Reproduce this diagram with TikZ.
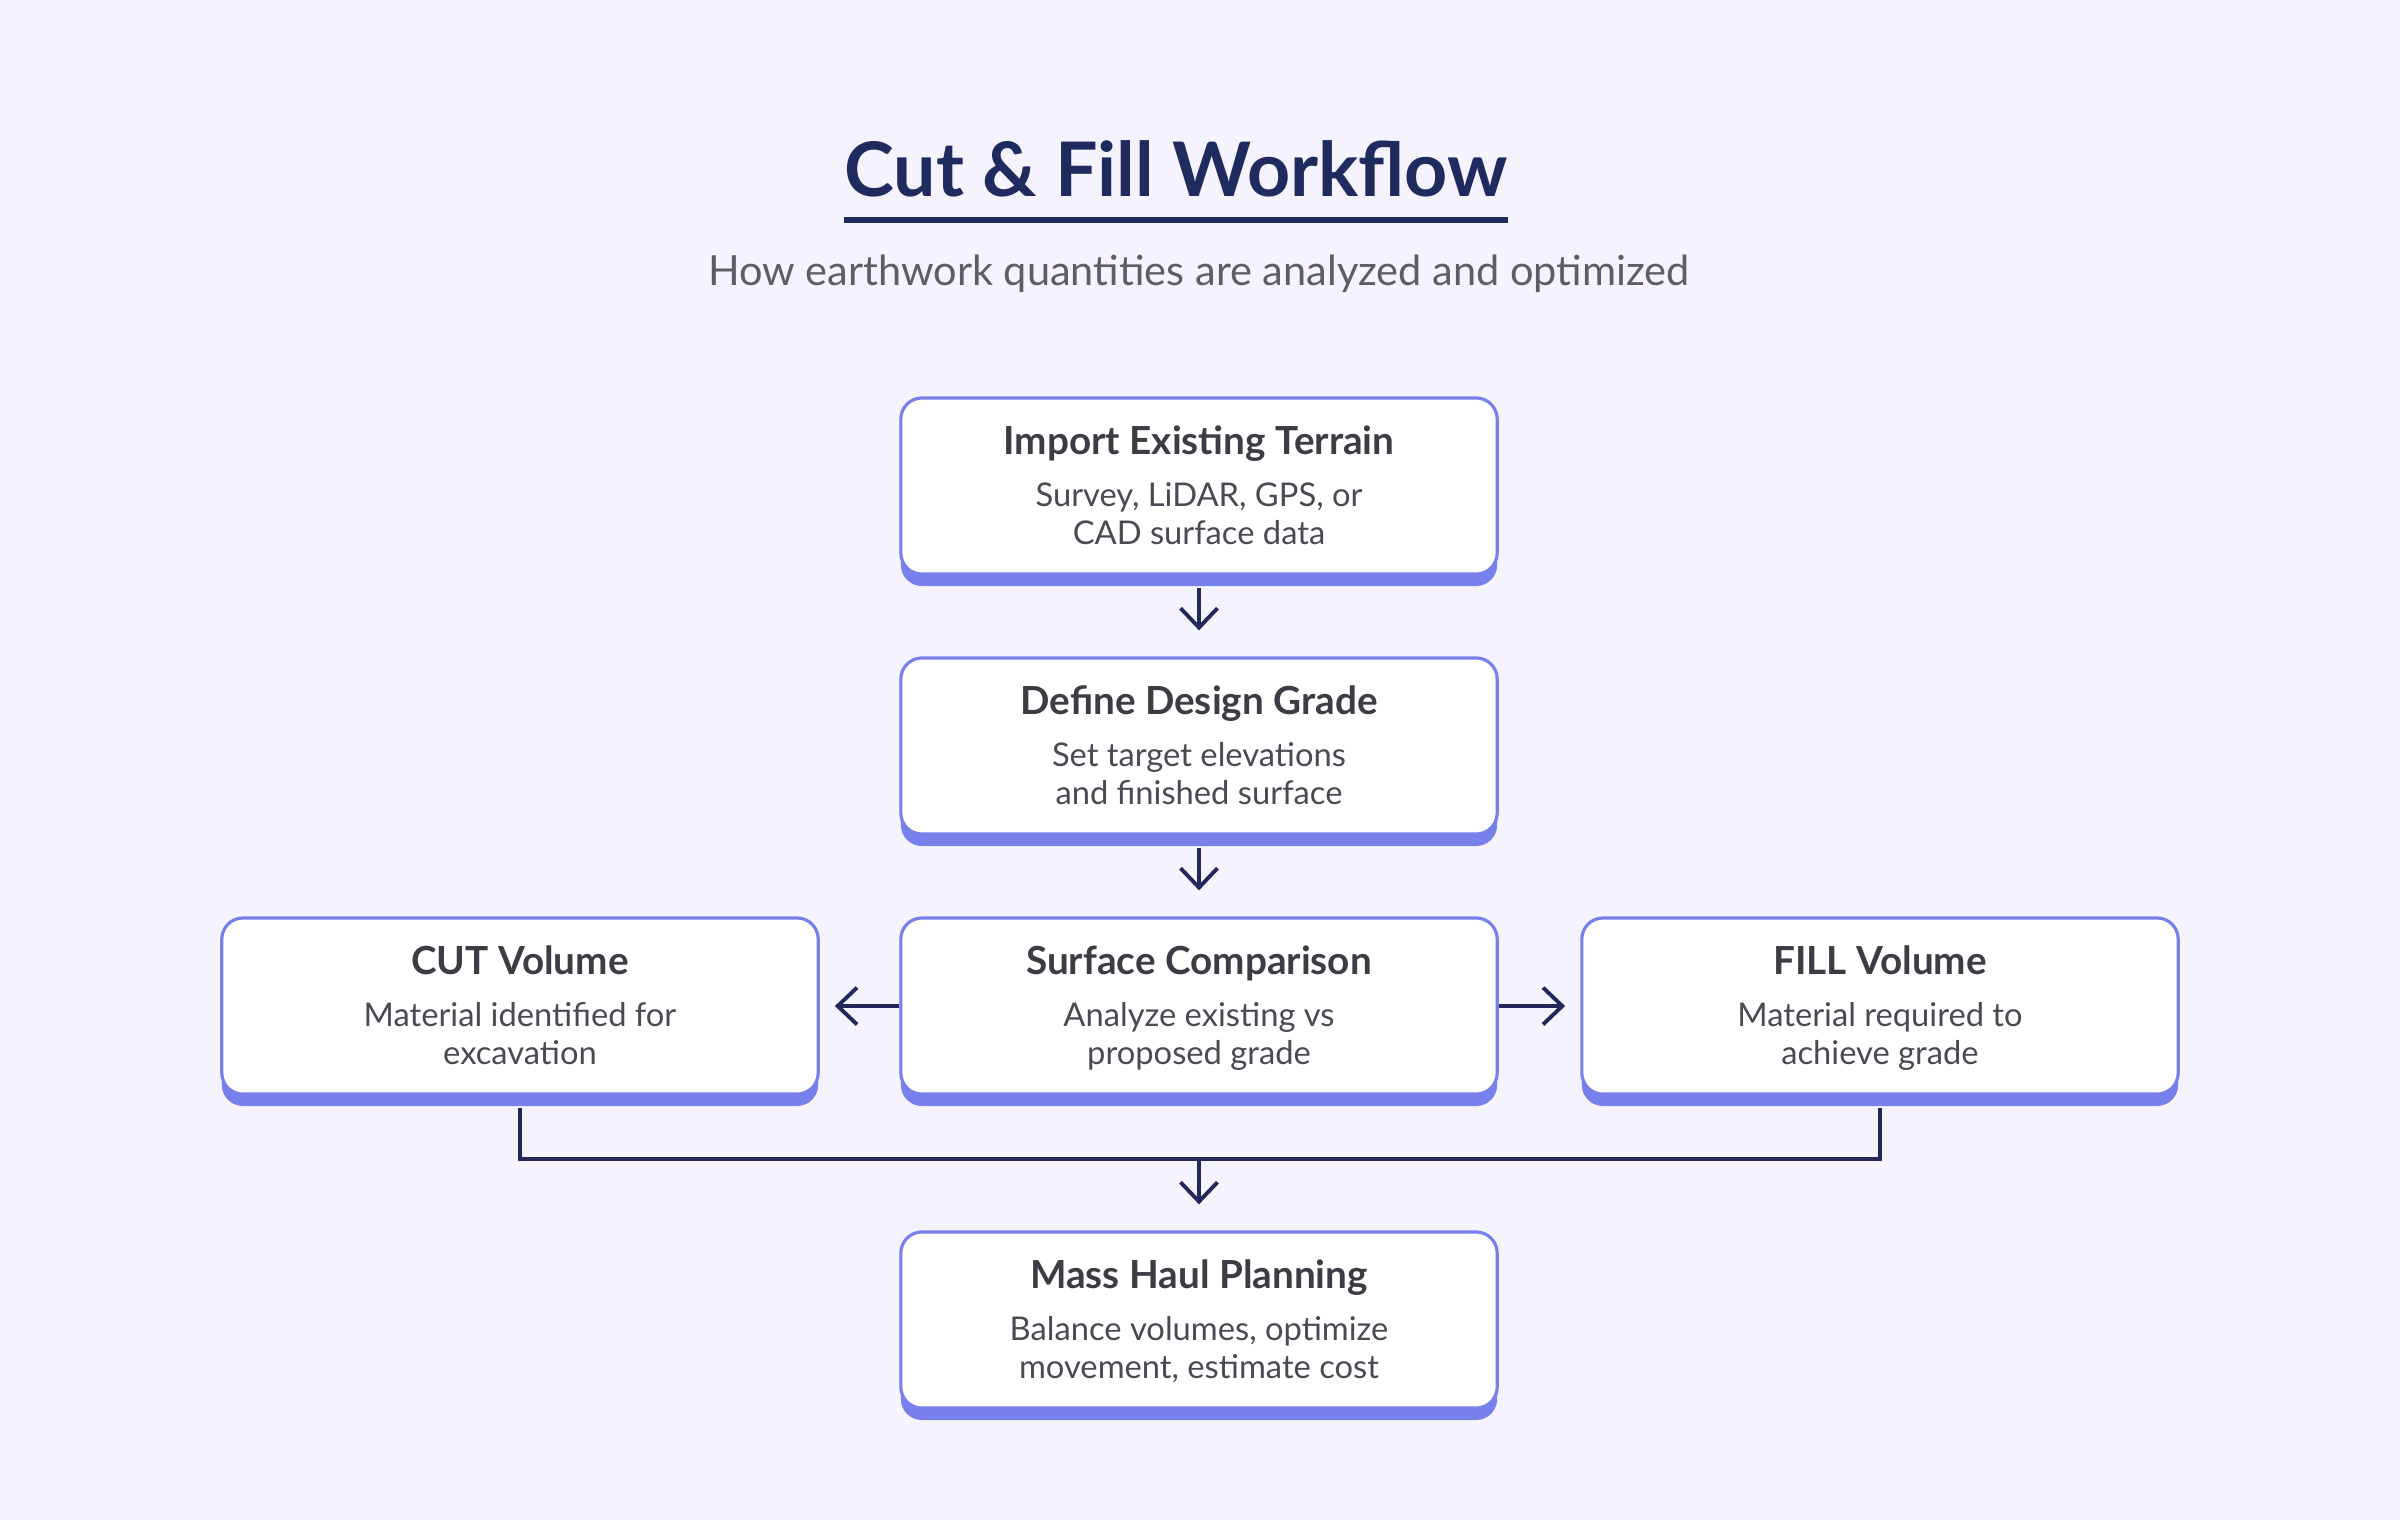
\documentclass[tikz,border=0pt]{standalone}
\usepackage{fontspec}
\setmainfont{Lato}
\usepackage{xcolor}
\usetikzlibrary{arrows.meta,positioning,shadows}

\definecolor{bgcol}{RGB}{245,244,254}
\definecolor{edgecol}{RGB}{120,128,236}
\definecolor{navy}{RGB}{31,42,94}
\definecolor{headcol}{RGB}{60,60,68}
\definecolor{bodycol}{RGB}{74,74,84}
\definecolor{subcol}{RGB}{92,92,107}
\definecolor{arrowcol}{RGB}{34,41,90}

\tikzset{
  stepcard/.style={draw=edgecol, line width=0.9pt, fill=white, rounded corners=6pt,
    minimum width=5.96cm, minimum height=1.76cm, align=center, inner sep=0pt,
    text=bodycol, font=\fontsize{9.3}{10.9}\selectfont,
    drop shadow={shadow xshift=0pt, shadow yshift=-3.4pt, fill=edgecol, opacity=1}},
  flow/.style={draw=arrowcol, line width=1.1pt, -{Straight Barb[length=5.5pt,width=10.5pt]}},
  link/.style={draw=arrowcol, line width=1.1pt}
}
\newcommand{\cardtext}[3]{\rule{0pt}{11pt}{\fontsize{11}{13}\selectfont\bfseries\color{headcol}#1}\\[3.9pt]#2\\#3\strut}

\begin{document}
\begin{tikzpicture}[x=0.01cm,y=-0.01cm]
  \fill[bgcol] (0,0) rectangle (2400,1520);

  % heading
  \node[anchor=base, inner sep=0pt, text=navy, font=\fontsize{21.4}{26}\selectfont\bfseries]
    (title) at (1176,196) {Cut \& Fill Workflow};
  \draw[navy, line width=1.7pt] ([yshift=-6.8pt]title.base west) -- ([yshift=-6.8pt]title.base east);
  \node[anchor=base, inner sep=0pt, text=subcol, font=\fontsize{11.8}{14}\selectfont]
    (sub) at (1199,285) {How earthwork quantities are analyzed and optimized};

  % steps
  \node[stepcard] (imp)  at (1199,486)  {\cardtext{Import Existing Terrain}{Survey, LiDAR, GPS, or}{CAD surface data}};
  \node[stepcard] (def)  at (1199,746)  {\cardtext{Define Design Grade}{Set target elevations}{and finished surface}};
  \node[stepcard] (cmp)  at (1199,1006) {\cardtext{Surface Comparison}{Analyze existing vs}{proposed grade}};
  \node[stepcard] (cut)  at (520,1006)  {\cardtext{CUT Volume}{Material identified for}{excavation}};
  \node[stepcard] (fill) at (1880,1006) {\cardtext{FILL Volume}{Material required to}{achieve grade}};
  \node[stepcard] (haul) at (1199,1320) {\cardtext{Mass Haul Planning}{Balance volumes, optimize}{movement, estimate cost}};

  % connectors
  \draw[flow] ([yshift=-3.4pt]imp.south) -- ([yshift=7.4pt]def.north);
  \draw[flow] ([yshift=-3.4pt]def.south) -- ([yshift=7.4pt]cmp.north);
  \draw[flow] (cmp.west) -- ([xshift=4.3pt]cut.east);
  \draw[flow] (cmp.east) -- ([xshift=-4.3pt]fill.west);

  \coordinate (join) at (1199,1159);
  \draw[link] ([yshift=-3.4pt]cut.south) -- (cut.south |- join) -- (fill.south |- join)
    -- ([yshift=-3.4pt]fill.south);
  \draw[flow] (join) -- ([yshift=7.4pt]haul.north);
\end{tikzpicture}
\end{document}
